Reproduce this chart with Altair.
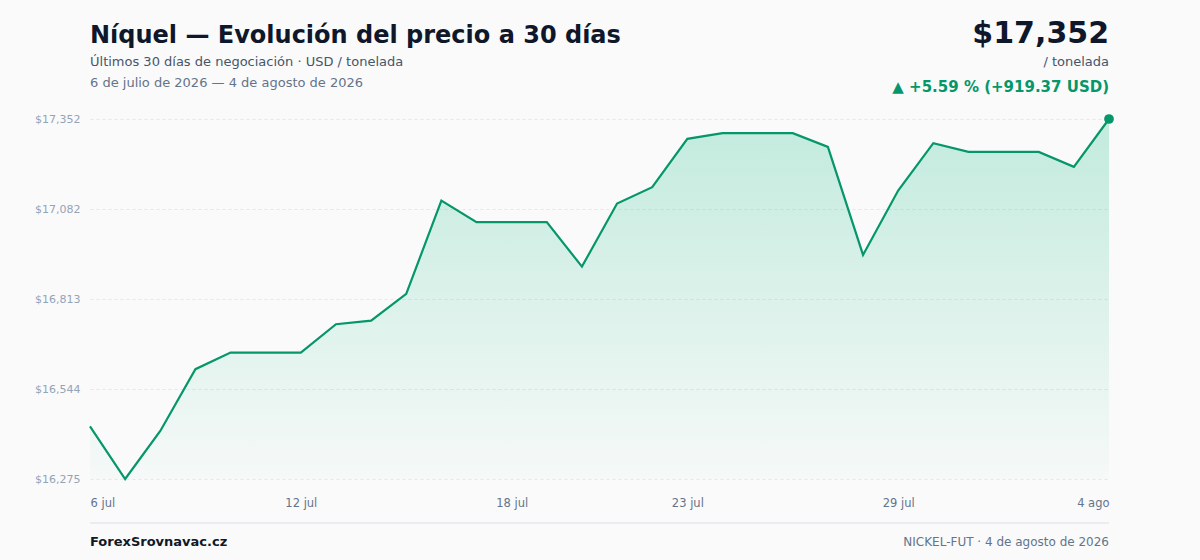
import altair as alt
import pandas as pd
import jinja2

# ---- data ----
days = ["2026-07-06", "2026-07-07", "2026-07-08", "2026-07-09", "2026-07-10",
        "2026-07-11", "2026-07-12", "2026-07-13", "2026-07-14", "2026-07-15",
        "2026-07-16", "2026-07-17", "2026-07-18", "2026-07-19", "2026-07-20",
        "2026-07-21", "2026-07-22", "2026-07-23", "2026-07-24", "2026-07-25",
        "2026-07-26", "2026-07-27", "2026-07-28", "2026-07-29", "2026-07-30",
        "2026-07-31", "2026-08-01", "2026-08-02", "2026-08-03", "2026-08-04"]
prices = [16432.23, 16274.8, 16418.6, 16603.2, 16652.9,
          16652.9, 16652.9, 16737.8, 16748.6, 16828.5,
          17107.6, 17043.0, 17043.0, 17043.0, 16910.1,
          17098.7, 17147.7, 17292.2, 17309.2, 17309.2,
          17309.2, 17268.2, 16945.1, 17137.6, 17279.2,
          17253.3, 17253.3, 17253.3, 17208.4, 17351.6]
x_tick_idx = [0, 6, 12, 17, 23, 29]
x_tick_labels = ["6 jul", "12 jul", "18 jul", "23 jul", "29 jul", "4 ago"]
y_ticks = [16274.8, 16544.0, 16813.2, 17082.4, 17351.6]

title = "Níquel — Evolución del precio a 30 días"
subtitle1 = "Últimos 30 días de negociación · USD / tonelada"
subtitle2 = "6 de julio de 2026 — 4 de agosto de 2026"
price_label = "$17,352"
unit_label = "/ tonelada"
change_label = "▲ +5.59 % (+919.37 USD)"
footer_left = "ForexSrovnavac.cz"
footer_right = "NICKEL-FUT · 4 de agosto de 2026"

df = pd.DataFrame({"i": list(range(len(days))), "date": days, "price": prices})
last = df.tail(1)

FONT = "DejaVu Sans"
GREEN = "#059669"
BG = "#fafafa"
W, H = 1019, 360

label_expr = " : ".join(
    f"datum.value == {i} ? '{l}'" for i, l in zip(x_tick_idx, x_tick_labels)
) + " : ''"

x_enc = alt.X("i:Q", scale=alt.Scale(domain=[0, len(days) - 1], nice=False, zero=False),
              axis=alt.Axis(values=x_tick_idx, labelExpr=label_expr, title=None,
                            grid=False, domain=False, ticks=False, labelFlush=True,
                            labelPadding=18, labelFontSize=11.5, labelColor="#64748b",
                            labelFont=FONT))
y_enc = alt.Y("price:Q", scale=alt.Scale(domain=[y_ticks[0], y_ticks[-1]], nice=False, zero=False),
              axis=alt.Axis(values=y_ticks, format="$,.0f", title=None, domain=False,
                            ticks=False, grid=True, gridDash=[3, 3], gridColor="#e5e7eb",
                            labelPadding=10, labelFontSize=11, labelColor="#94a3b8",
                            labelFont=FONT))

base = alt.Chart(df)

area = base.mark_area(
    color=alt.Gradient(
        gradient="linear",
        stops=[alt.GradientStop(color="rgba(16,185,129,0.24)", offset=0),
               alt.GradientStop(color="rgba(16,185,129,0.02)", offset=1)],
        x1=1, x2=1, y1=0, y2=1),
).encode(x=x_enc, y=y_enc, y2=alt.datum(y_ticks[0]))

line = base.mark_line(color=GREEN, strokeWidth=2.2).encode(x="i:Q", y="price:Q")

dot = alt.Chart(last).mark_circle(color=GREEN, size=95, opacity=1).encode(x="i:Q", y="price:Q")


def txt(text, x, y, size, color, weight="normal", align="left"):
    return alt.Chart(alt.Data(values=[{}])).mark_text(
        align=align, baseline="alphabetic", font=FONT, fontSize=size,
        fontWeight=weight, color=color
    ).encode(x=alt.value(x), y=alt.value(y), text=alt.value(text))


texts = [
    txt(title, 0, -76, 24, "#0f172a", "bold"),
    txt(subtitle1, 0, -53, 13, "#475569"),
    txt(subtitle2, 0, -32, 13, "#64748b"),
    txt(price_label, W, -76, 30, "#0f172a", "bold", "right"),
    txt(unit_label, W, -53, 13, "#475569", "normal", "right"),
    txt(change_label, W, -27, 15, GREEN, "bold", "right"),
    txt(footer_left, 0, 427, 13, "#111827", "bold"),
    txt(footer_right, W, 427, 12, "#64748b", "normal", "right"),
]

sep = alt.Chart(alt.Data(values=[{}])).mark_rule(color="#e5e7eb", strokeWidth=1.5).encode(
    x=alt.value(0), x2=alt.value(W), y=alt.value(404))

chart = alt.layer(area, line, dot, sep, *texts).properties(
    width=W, height=H,
    autosize=alt.AutoSizeParams(type="none"),
    padding={"left": 82, "top": 111, "right": 83, "bottom": 73},
    background=BG,
).configure_view(stroke=None)

# page template: same CDN scripts as the standard one, with a page background
PAGE = jinja2.Template("""<!DOCTYPE html>
<html>
<head>
  <meta charset="utf-8">
  <style>body { background: """ + BG + """; }</style>
  <script src="{{ base_url }}/vega@{{ vega_version }}"></script>
  <script src="{{ base_url }}/vega-lite@{{ vegalite_version }}"></script>
  <script src="{{ base_url }}/vega-embed@{{ vegaembed_version }}"></script>
</head>
<body>
  <div id="{{ output_div }}"></div>
  <script>
    vegaEmbed("#{{ output_div }}", {{ spec }}, {{ embed_options }}).catch(console.error);
  </script>
</body>
</html>
""")

chart.save("out.html", embed_options={"renderer": "svg", "actions": False}, template=PAGE)
